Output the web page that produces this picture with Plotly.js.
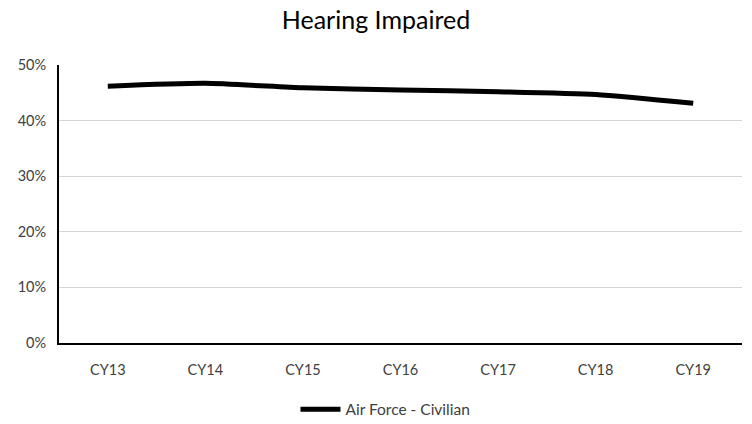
<!DOCTYPE html>
<html><head><meta charset="utf-8">
<script src="https://cdn.plot.ly/plotly-3.0.1.min.js"></script>
<style>html,body{margin:0;padding:0;background:#fff}#chart{width:752px;height:424px}</style>
</head><body><div id="chart"></div>
<script>
const categories = ["CY13","CY14","CY15","CY16","CY17","CY18","CY19"];
const seriesName = "Air Force - Civilian";
const values = [0.462, 0.467, 0.459, 0.455, 0.452, 0.447, 0.431];
const yTicks = [0, 0.1, 0.2, 0.3, 0.4, 0.5];
const yTickText = ["0%","10%","20%","30%","40%","50%"];

const font = "Lato, 'Open Sans', sans-serif";
Plotly.newPlot("chart", [{
  x: categories, y: values, name: seriesName, type: "scatter", mode: "lines",
  line: {color: "#000000", width: 5, shape: "spline", smoothing: 0.6},
  showlegend: true
}], {
  width: 752, height: 424,
  margin: {l: 59, r: 10, t: 65, b: 81, autoexpand: false},
  paper_bgcolor: "#ffffff", plot_bgcolor: "#ffffff",
  title: {text: "Hearing Impaired", font: {family: font, size: 25, color: "#000000"}, x: 0.5, xanchor: "center", y: 0.953, yanchor: "middle"},
  xaxis: {type: "category", range: [-0.5, 6.5], showgrid: false, zeroline: false,
    showline: true, linecolor: "#000000", linewidth: 2, ticks: "",
    tickfont: {family: font, size: 14.5, color: "#404040"}, ticklabelstandoff: 13},
  yaxis: {range: [0, 0.5], tickvals: yTicks, ticktext: yTickText, showgrid: true,
    gridcolor: "#d4d4d4", gridwidth: 1, zeroline: false, showline: true,
    linecolor: "#000000", linewidth: 2, ticks: "",
    tickfont: {family: font, size: 14.5, color: "#404040"}, ticklabelstandoff: 8},
  legend: {orientation: "h", x: 0.478, xanchor: "center", y: -0.24, yanchor: "middle",
    font: {family: font, size: 15.5, color: "#404040"}, itemwidth: 40}
}, {displayModeBar: false, staticPlot: true});
</script></body></html>
